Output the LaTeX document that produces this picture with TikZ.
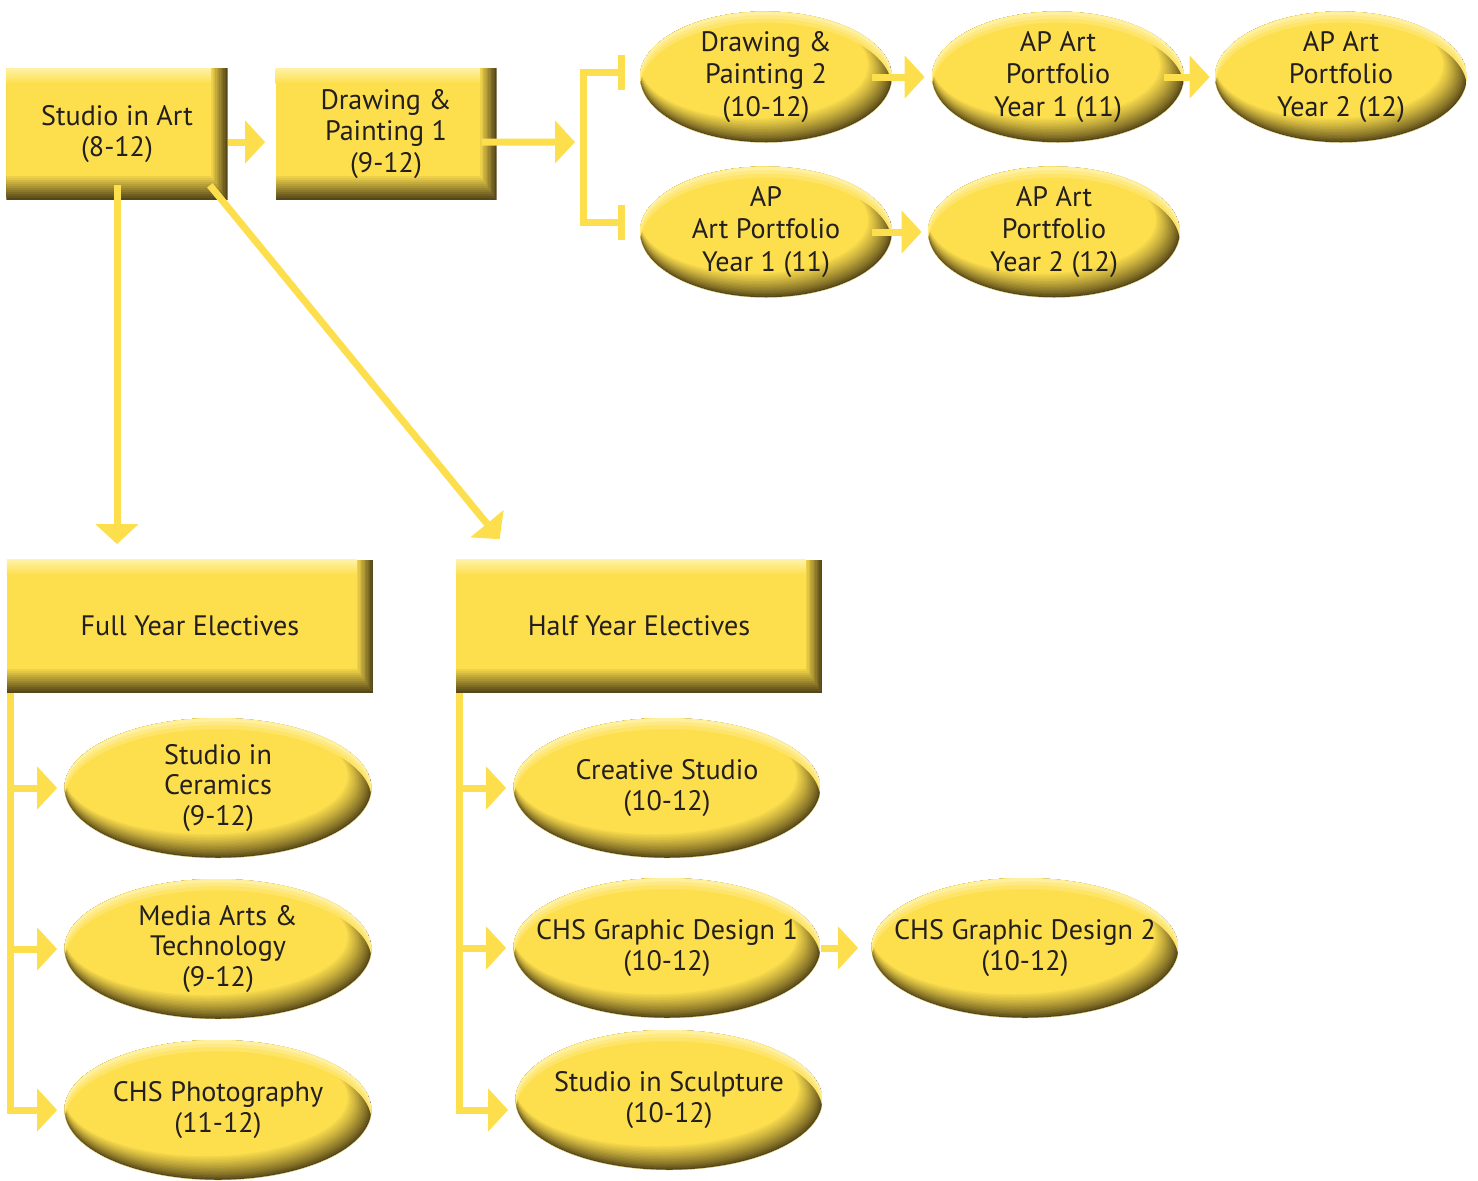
\documentclass[tikz,border=0pt]{standalone}
\usepackage{fontspec}
\setmainfont{PT Sans}
\usetikzlibrary{shapes.geometric,arrows.meta}

\definecolor{sun}{HTML}{FDDF4E}
\definecolor{umber}{HTML}{564718}
\definecolor{glow}{HTML}{FFF2A8}
\definecolor{ink}{HTML}{231F20}

\tikzset{
  course/.style 2 args={ellipse, minimum width=#1, minimum height=#2, inner xsep=-9mm, inner ysep=-4mm,
    align=center, text=ink, font=\fontsize{16}{17.5}\selectfont,
    path picture={
      \fill[umber] (path picture bounding box.south west) rectangle (path picture bounding box.north east);
      \foreach \k [evaluate=\k as \m using int(100*(\k/16)^0.8)] in {1,...,16}
        \fill[sun!\m!umber] ([shift={(-\k*0.15mm,\k*0.15mm)}]path picture bounding box.center)
          ellipse [x radius={#1/2-\k*0.15mm}, y radius={#2/2-\k*0.15mm}];
      \foreach \s/\c in {2.2/30,1.4/60,0.7/90}
        \fill[glow!\c!sun, even odd rule] (path picture bounding box.center) ellipse [x radius=#1/2, y radius=#2/2]
          ([yshift=-\s mm]path picture bounding box.center) ellipse [x radius=#1/2, y radius=#2/2];
    }},
  stage/.style 2 args={rectangle, minimum width=#1, minimum height=#2, inner sep=0pt,
    align=center, text=ink, font=\fontsize{16}{18}\selectfont,
    path picture={
      \fill[umber] (path picture bounding box.south west) rectangle (path picture bounding box.north east);
      \foreach \k [evaluate=\k as \m using int(\k*100/12)] in {1,...,12}
        \fill[sun!\m!umber] (path picture bounding box.north west)
          rectangle ([shift={(-\k*0.27mm,\k*0.4mm)}]path picture bounding box.south east);
      \shade[top color=glow, bottom color=sun] (path picture bounding box.north west)
        rectangle ([shift={(-3.3mm,-3mm)}]path picture bounding box.north east);
    }},
  start/.style={stage={44.2mm}{26.4mm}},
  group/.style={stage={73.2mm}{26.6mm}},
  track/.style={course={50.4mm}{26.2mm}, font=\fontsize{16}{18.5}\selectfont},
  elective/.style={course={61.4mm}{28mm}},
  flow/.style={draw=sun, line width=1.4mm, -{Triangle[length=4mm,width=8.4mm]}},
  bracket/.style={draw=sun, line width=1.4mm, line join=miter, {Bar[width=7mm]}-{Bar[width=7mm]}}
}

\begin{document}
\begin{tikzpicture}[x=0.2mm, y=-0.2mm]
  \useasboundingbox (0,0) rectangle (1478,1180);

  \node[start] (sia) at (117,134) {Studio in Art\\(8-12)};
  \node[start] (dp1) at (386,134) {Drawing \&\\Painting 1\\(9-12)};
  \node[track] (dp2) at (766,77) {Drawing \&\\Painting 2\\(10-12)};
  \node[track] (apy1) at (1058,77) {AP Art\\Portfolio\\Year 1 (11)};
  \node[track] (apy2) at (1341,77) {AP Art\\Portfolio\\Year 2 (12)};
  \node[track] (ap1) at (766,232) {AP\\Art Portfolio\\Year 1 (11)};
  \node[track] (ap2) at (1054,232) {AP Art\\Portfolio\\Year 2 (12)};

  \node[group] (fye) at (190,626) {Full Year Electives};
  \node[group] (hye) at (639,626) {Half Year Electives};

  \node[elective] (cer) at (218,788) {Studio in\\Ceramics\\(9-12)};
  \node[elective] (med) at (218,949) {Media Arts \&\\Technology\\(9-12)};
  \node[elective] (pho) at (218,1110) {CHS Photography\\(11-12)};
  \node[elective] (cre) at (667,788) {Creative Studio\\(10-12)};
  \node[elective] (gd1) at (667,948) {CHS Graphic Design 1\\(10-12)};
  \node[elective] (scu) at (669,1100) {Studio in Sculpture\\(10-12)};
  \node[elective] (gd2) at (1025,948) {CHS Graphic Design 2\\(10-12)};

  \coordinate (brk) at (583,142);
  \coordinate (ft) at ([xshift=0.7mm]fye.south west);
  \coordinate (ht) at ([xshift=0.7mm]hye.south west);

  \draw[flow, shorten >=2mm] ([yshift=-1.6mm]sia.east) -- ([yshift=-1.6mm]dp1.west);
  \draw[flow, shorten <=-3mm, shorten >=1.6mm] ([yshift=-1.6mm]dp1.east) -- (brk);
  \draw[bracket, shorten <=3mm, shorten >=3mm] ([yshift=1mm]dp2.west) -| (brk) |- ([yshift=2mm]ap1.west);
  \draw[flow, shorten <=-4mm, shorten >=1.4mm] (dp2.east) -- (apy1.west);
  \draw[flow, shorten <=-4mm, shorten >=1mm] (apy1.east) -- (apy2.west);
  \draw[flow, shorten <=-4mm, shorten >=1.2mm] (ap1.east) -- (ap2.west);

  \draw[flow, shorten <=-3mm, shorten >=3mm] (sia.south) -- (sia.south |- fye.north);
  \draw[flow] ([shift={(-3.6mm,3mm)}]sia.south east) -- ([shift={(8.8mm,4mm)}]hye.north west);

  \draw[flow, shorten >=1.4mm] (ft) |- (pho.west);
  \foreach \n in {cer,med}
    \draw[flow, shorten >=1.4mm] (ft |- \n.west) -- (\n.west);
  \draw[flow, shorten >=1.4mm] (ht) |- ([yshift=-2mm]scu.west);
  \foreach \n in {cre,gd1}
    \draw[flow, shorten >=1.4mm] (ht |- \n.west) -- (\n.west);
  \draw[flow, shorten >=2.6mm] (gd1.east) -- (gd2.west);
\end{tikzpicture}
\end{document}
